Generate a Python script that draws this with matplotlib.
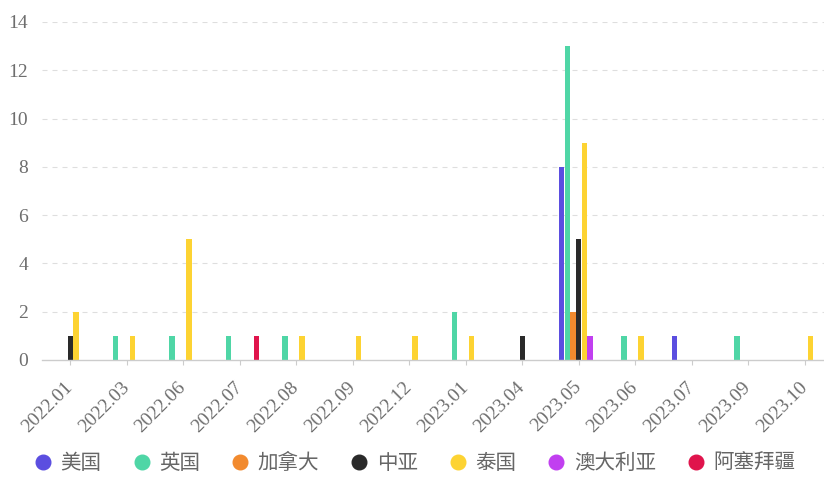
import matplotlib
matplotlib.use('Agg')
import matplotlib.pyplot as plt
import numpy as np
from matplotlib.lines import Line2D

plt.rcParams['lines.scale_dashes'] = False

categories = ['2022.01', '2022.03', '2022.06', '2022.07', '2022.08', '2022.09', '2022.12',
              '2023.01', '2023.04', '2023.05', '2023.06', '2023.07', '2023.09', '2023.10']
series_names = ['美国', '英国', '加拿大', '中亚', '泰国', '澳大利亚', '阿塞拜疆']
usa          = [0, 0, 0, 0, 0, 0, 0, 0, 0, 8, 0, 1, 0, 0]
uk           = [0, 1, 1, 1, 1, 0, 0, 2, 0, 13, 1, 0, 1, 0]
canada       = [0, 0, 0, 0, 0, 0, 0, 0, 0, 2, 0, 0, 0, 0]
central_asia = [1, 0, 0, 0, 0, 0, 0, 0, 1, 5, 0, 0, 0, 0]
thailand     = [2, 1, 5, 0, 1, 1, 1, 1, 0, 9, 1, 0, 0, 1]
australia    = [0, 0, 0, 0, 0, 0, 0, 0, 0, 1, 0, 0, 0, 0]
azerbaijan   = [0, 0, 0, 1, 0, 0, 0, 0, 0, 0, 0, 0, 0, 0]
series_values = [usa, uk, canada, central_asia, thailand, australia, azerbaijan]
colors = ['#5b4ee0', '#4fd6a6', '#f28a2e', '#2a2a2a', '#fdd332', '#c13ff0', '#e0144c']
yticks = [0, 2, 4, 6, 8, 10, 12, 14]

W, H = 824, 478
fig = plt.figure(figsize=(W / 100, H / 100), dpi=100)
ax = fig.add_axes([42 / W, 118 / H, 791 / W, 338 / H])

x = np.arange(len(categories))
bw = 0.1
for k, (name, vals, c) in enumerate(zip(series_names, series_values, colors)):
    ax.bar(x + (k - 3) * bw, vals, width=bw * 0.95, color=c, label=name, zorder=3, linewidth=0)

ax.set_xlim(-0.5, len(categories) - 0.5)
ax.set_ylim(0, 14)
ax.set_yticks(yticks)
ax.set_xticks(x)

label_color = '#6e6e6e'
ax.set_xticklabels(categories, rotation=45, ha='right', va='center', rotation_mode='anchor',
                   family='Liberation Serif', fontsize=14, color=label_color)
ax.set_yticklabels([str(v) for v in yticks], family='Liberation Serif', fontsize=14, color=label_color)

ax.tick_params(axis='x', length=3.6, width=0.8, color='#cccccc', pad=14)
ax.tick_params(axis='y', length=0, pad=10)

for s in ['top', 'right', 'left']:
    ax.spines[s].set_visible(False)
ax.spines['bottom'].set_color('#cccccc')
ax.spines['bottom'].set_linewidth(1)
ax.spines['bottom'].set_zorder(4)

for v in yticks[1:]:
    ax.axhline(v, color='#dedede', linewidth=0.8, linestyle=(0, (3.6, 3.6)), zorder=1)

handles = [Line2D([0], [0], marker='o', linestyle='none', markersize=10.5,
                  markerfacecolor=c, markeredgecolor=c) for c in colors]
leg = fig.legend(handles, series_names, loc='center left', bbox_to_anchor=(36 / W, 15 / H),
                 ncol=7, frameon=False, handlelength=0.7, handletextpad=0.5,
                 columnspacing=1.6, borderpad=0, borderaxespad=0,
                 prop={'family': ['Noto Sans CJK SC', 'DejaVu Sans'], 'size': 14.8})
for t in leg.get_texts():
    t.set_color('#666666')

fig.savefig('out.png', dpi=100)
